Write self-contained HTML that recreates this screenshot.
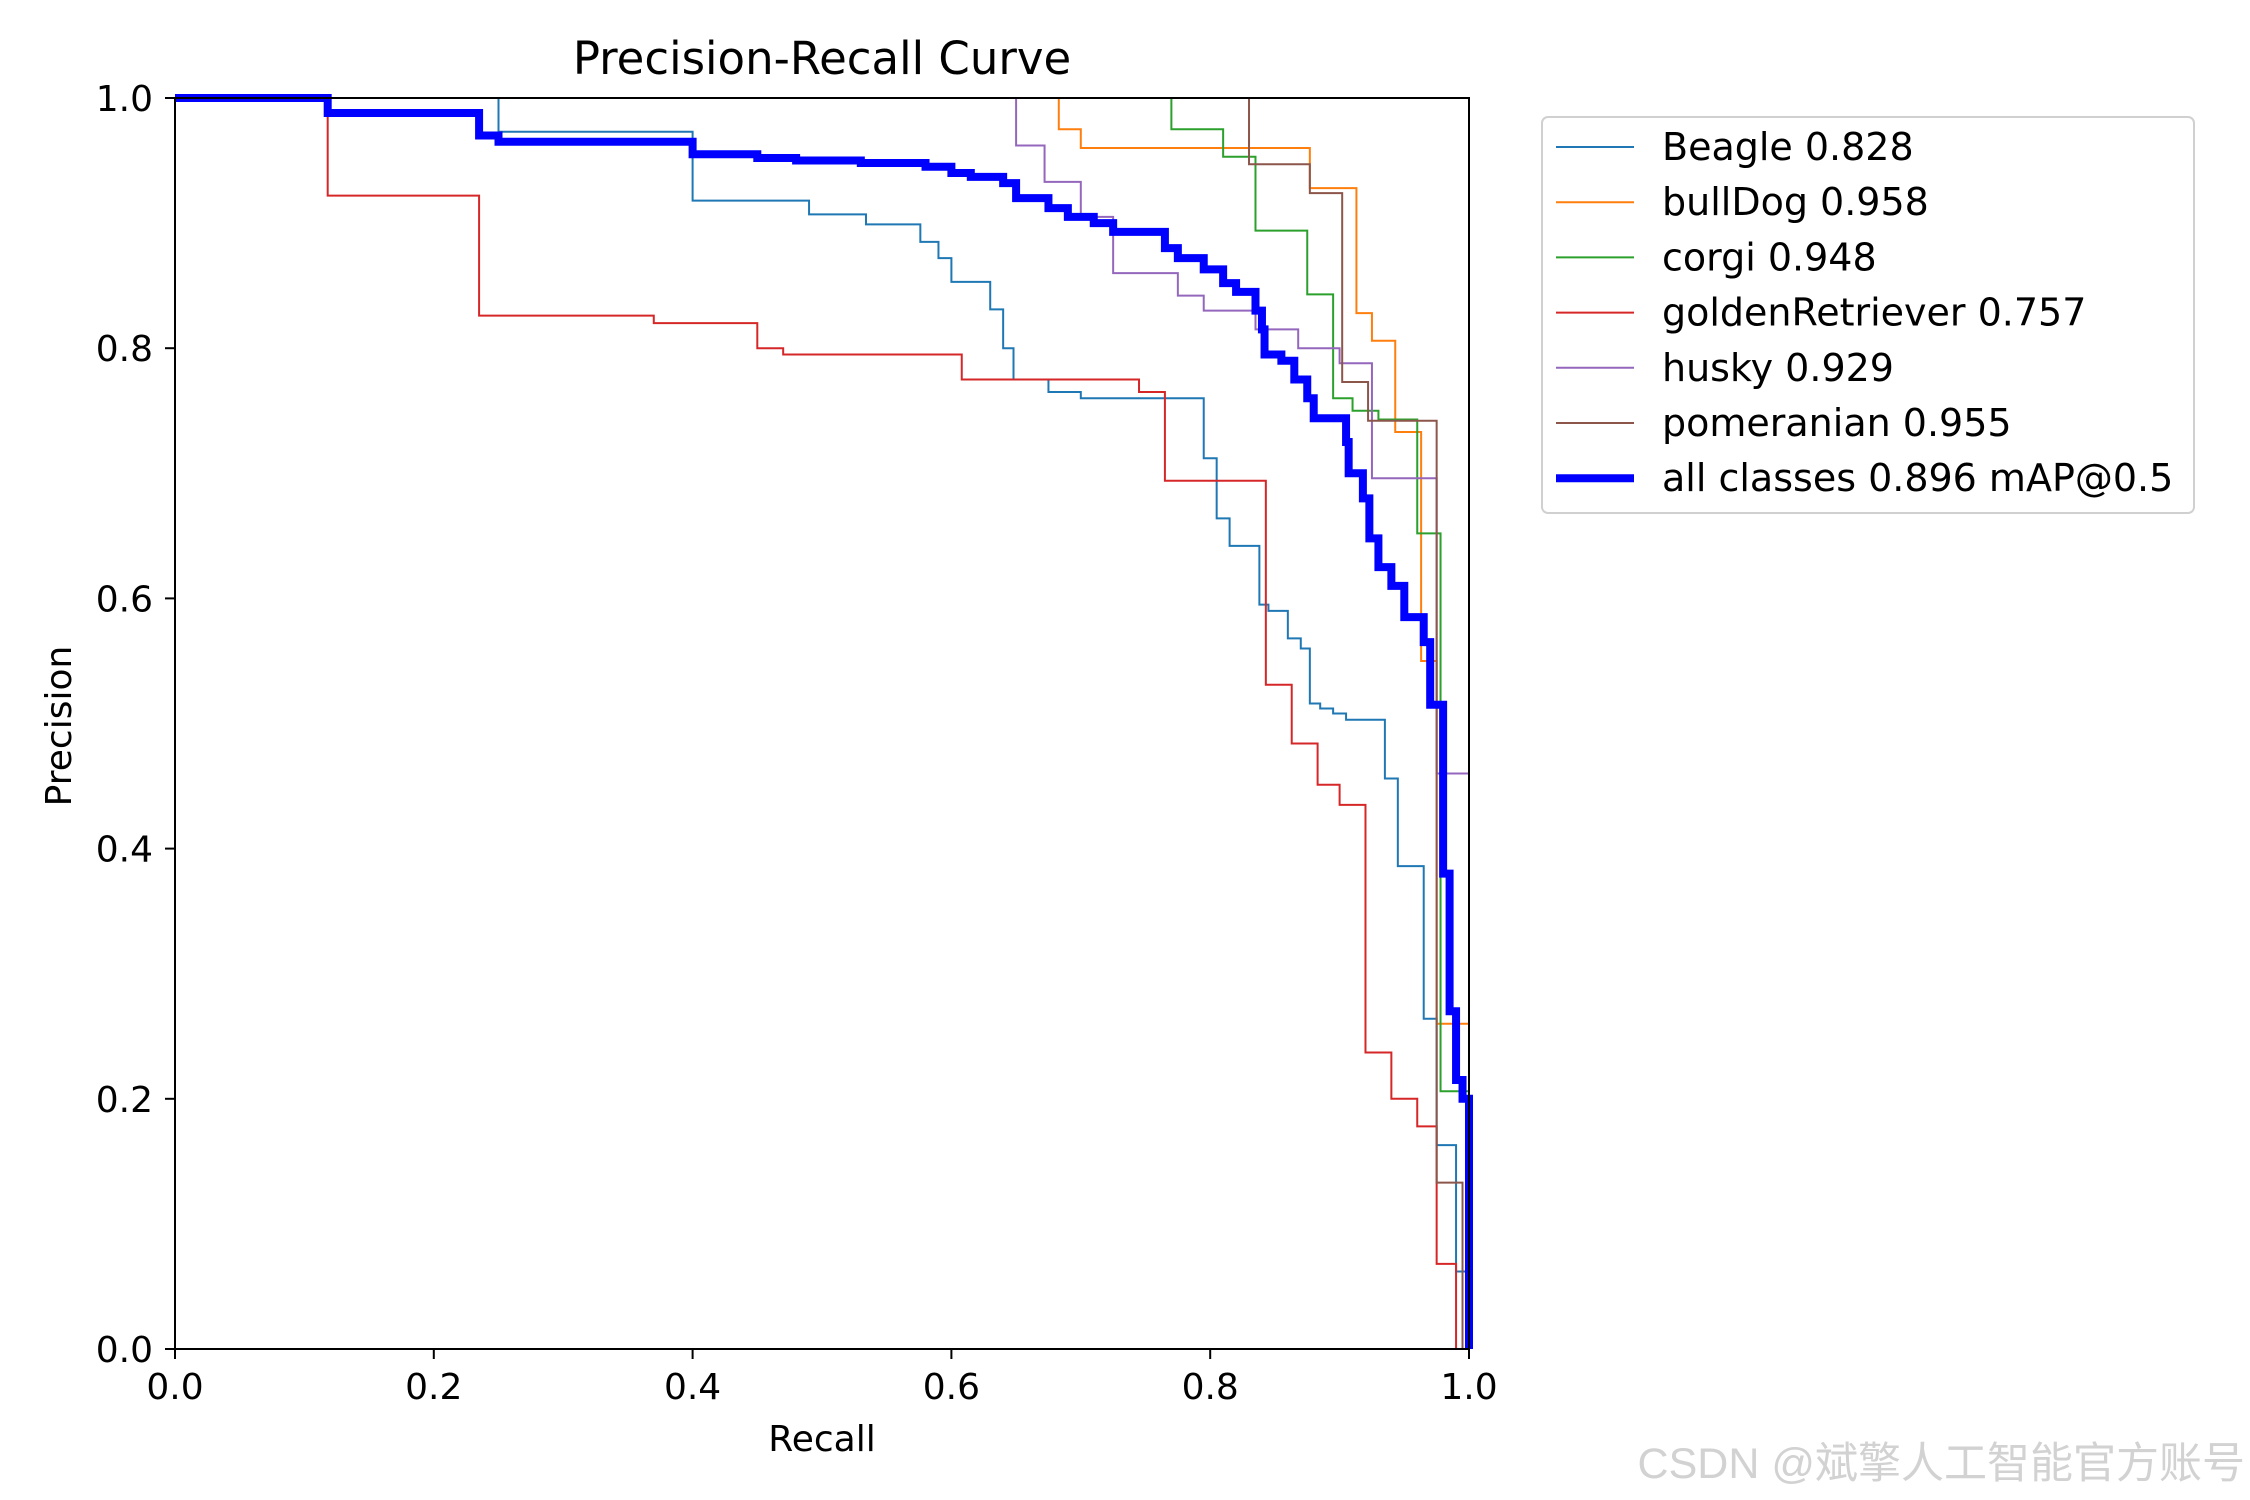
<!DOCTYPE html>
<html><head><meta charset="utf-8"><style>
html,body{margin:0;padding:0;background:#fff;}
svg{display:block;font-family:"DejaVu Sans","Liberation Sans","Noto Sans CJK SC",sans-serif;}
</style></head><body>
<svg id="chart" width="2250" height="1500" viewBox="0 0 2250 1500" xmlns="http://www.w3.org/2000/svg">
<rect width="2250" height="1500" fill="#fff"/>
<text x="822" y="74" font-size="45" text-anchor="middle">Precision-Recall Curve</text>
<g id="series"></g>
<rect x="175" y="98" width="1294" height="1251" fill="none" stroke="#000" stroke-width="2"/>
<g id="ticks"></g>
<text x="822" y="1451" font-size="36" text-anchor="middle">Recall</text>
<text x="0" y="0" font-size="36" text-anchor="middle" transform="translate(71,726) rotate(-90)">Precision</text>
<g id="legend">
<rect x="1542" y="117" width="652" height="396" rx="6" fill="#fff" stroke="#d0d0d0" stroke-width="2"/>
</g>
<text x="2245" y="1478" font-size="43" text-anchor="end" fill="#d2d2d2" font-family="Liberation Sans, Noto Sans CJK SC, sans-serif">CSDN @斌擎人工智能官方账号</text>
</svg>
<script>
const xTicks=[0,0.2,0.4,0.6,0.8,1.0];
const yTicks=[0,0.2,0.4,0.6,0.8,1.0];
const tickLabels=["0.0","0.2","0.4","0.6","0.8","1.0"];
const seriesNames=["Beagle 0.828","bullDog 0.958","corgi 0.948","goldenRetriever 0.757","husky 0.929","pomeranian 0.955","all classes 0.896 mAP@0.5"];
const beagleRecall=[0.25,0.4,0.49,0.534,0.576,0.59,0.6,0.63,0.64,0.648,0.675,0.7,0.795,0.805,0.815,0.838,0.845,0.86,0.87,0.877,0.885,0.895,0.905,0.935,0.945,0.965,0.975,0.99,1.0];
const beaglePrecision=[1.0,0.973,0.918,0.907,0.899,0.885,0.872,0.853,0.831,0.800,0.775,0.765,0.760,0.712,0.664,0.642,0.595,0.59,0.568,0.56,0.516,0.512,0.508,0.503,0.456,0.386,0.264,0.163,0.062];
const bulldogRecall=[0.683,0.7,0.877,0.913,0.925,0.943,0.963,0.975,1.0];
const bulldogPrecision=[1.0,0.975,0.96,0.928,0.828,0.806,0.733,0.55,0.26];
const corgiRecall=[0.77,0.81,0.835,0.875,0.895,0.91,0.93,0.96,0.978,1.0];
const corgiPrecision=[1.0,0.975,0.953,0.894,0.843,0.760,0.75,0.743,0.652,0.206];
const goldenRecall=[0.118,0.235,0.37,0.45,0.47,0.608,0.745,0.765,0.843,0.863,0.883,0.9,0.92,0.94,0.96,0.975,0.99,1.0];
const goldenPrecision=[1.0,0.922,0.826,0.82,0.80,0.795,0.775,0.765,0.694,0.531,0.484,0.451,0.435,0.237,0.2,0.178,0.068,0.0];
const huskyRecall=[0.65,0.672,0.7,0.725,0.775,0.795,0.835,0.868,0.9,0.925,0.975,1.0];
const huskyPrecision=[1.0,0.962,0.933,0.905,0.86,0.842,0.83,0.815,0.80,0.788,0.696,0.46];
const pomRecall=[0.83,0.877,0.902,0.922,0.975,0.995];
const pomPrecision=[1.0,0.947,0.924,0.773,0.742,0.133];
const allRecall=[0.118,0.235,0.25,0.4,0.45,0.48,0.53,0.58,0.6,0.615,0.64,0.65,0.675,0.69,0.71,0.725,0.765,0.775,0.795,0.81,0.82,0.835,0.84,0.842,0.855,0.865,0.875,0.88,0.905,0.907,0.918,0.923,0.93,0.94,0.95,0.965,0.97,0.98,0.985,0.99,0.995,1.0];
const allPrecision=[1.0,0.988,0.97,0.965,0.955,0.952,0.95,0.948,0.945,0.94,0.937,0.932,0.92,0.912,0.905,0.9,0.893,0.88,0.872,0.863,0.852,0.845,0.83,0.815,0.795,0.79,0.775,0.76,0.744,0.725,0.70,0.68,0.648,0.625,0.61,0.585,0.565,0.515,0.38,0.27,0.215,0.2];

const NS="http://www.w3.org/2000/svg";
const X0=175,X1=1469,Y0=1349,Y1=98;
function xs(r){return X0+r*(X1-X0);}
function ys(p){return Y0-p*(Y0-Y1);}
function mk(tag,attrs,parent){const e=document.createElementNS(NS,tag);for(const k in attrs)e.setAttribute(k,attrs[k]);parent.appendChild(e);return e;}

const ticksG=document.getElementById('ticks');
xTicks.forEach((t,i)=>{
  const l=mk('line',{x1:xs(t),x2:xs(t),y1:Y0,y2:Y0+10,stroke:'#000','stroke-width':2},ticksG);
  
  
  const tx=mk('text',{x:xs(t),y:Y0+50,'font-size':36,'text-anchor':'middle'},ticksG);
  tx.textContent=tickLabels[i];
  
  
});
yTicks.forEach((t,i)=>{
  const l=mk('line',{x1:X0-10,x2:X0,y1:ys(t),y2:ys(t),stroke:'#000','stroke-width':2},ticksG);
  
  
  const tx=mk('text',{x:X0-22,y:ys(t)+13,'font-size':36,'text-anchor':'end'},ticksG);
  tx.textContent=tickLabels[i];
  
  
});

const colors=['#1f77b4','#ff7f0e','#2ca02c','#d62728','#9467bd','#8c564b','#0000ff'];
const widths=[2,2,2,2,2,2,8];
const data=[[beagleRecall,beaglePrecision],[bulldogRecall,bulldogPrecision],[corgiRecall,corgiPrecision],[goldenRecall,goldenPrecision],[huskyRecall,huskyPrecision],[pomRecall,pomPrecision],[allRecall,allPrecision]];
const sNames=['beagle-curve','bulldog-curve','corgi-curve','golden-retriever-curve','husky-curve','pomeranian-curve','all-classes-curve'];
const sg=document.getElementById('series');
data.forEach((d,si)=>{
  const R=d[0],P=d[1];
  let s='M'+xs(0)+','+ys(P[0]);
  for(let i=0;i<R.length;i++){
    s+=' H'+xs(R[i]);
    const next=(i+1<P.length)?P[i+1]:0;
    s+=' V'+ys(next);
  }
  const p=mk('path',{d:s,fill:'none',stroke:colors[si],'stroke-width':widths[si],'stroke-linejoin':'miter'},sg);
  
  
});

const lg=document.getElementById('legend');
seriesNames.forEach((n,i)=>{
  const y=147+i*55.2;
  const l=mk('line',{x1:1556,x2:1634,y1:y,y2:y,stroke:colors[i],'stroke-width':widths[i]},lg);
  
  
  const t=mk('text',{x:1662,y:y+13,'font-size':38},lg);
  t.textContent=n;
  
  
});
</script>
</body></html>
